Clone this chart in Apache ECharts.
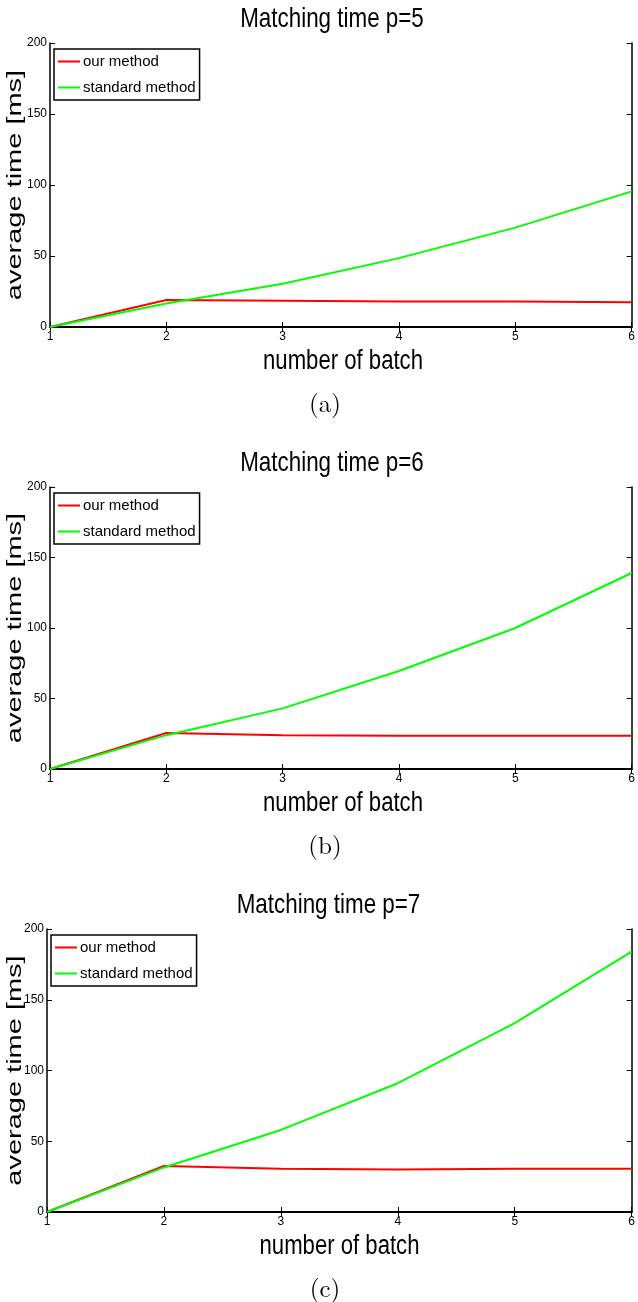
<!DOCTYPE html>
<html>
<head>
<meta charset="utf-8">
<script src="https://cdn.jsdelivr.net/npm/echarts@6/dist/echarts.min.js"></script>
<style>
html,body{margin:0;padding:0;background:#fff;}
#chart{width:638px;height:1302px;}
</style>
</head>
<body>
<div id="chart"></div>
<script>
// ---- data ----
const batches = [1, 2, 3, 4, 5, 6];
const yTicks = [0, 50, 100, 150, 200];
const seriesNames = ['our method', 'standard method'];
const titles = ['Matching time p=5', 'Matching time p=6', 'Matching time p=7'];
const captions = ['(a)', '(b)', '(c)'];
const xAxisTitle = 'number of batch';
const yAxisTitle = 'average time [ms]';
const ourA = [0, 19, 18.5, 18, 18, 17.5];
const stdA = [0, 16.5, 30.5, 48.5, 70, 95.5];
const ourB = [0, 25.5, 24, 23.5, 23.5, 23.5];
const stdB = [0, 24, 43, 69.5, 100, 139];
const ourC = [0, 32.5, 30.5, 30, 30.5, 30.5];
const stdC = [0, 31.5, 58, 91, 133.5, 184];

// ---- layout ----
const panels = [
  {our: ourA, std: stdA, left: 50, top: 43, right: 2, height: 284},
  {our: ourB, std: stdB, left: 50, top: 487, right: 2, height: 282},
  {our: ourC, std: stdC, left: 47, top: 929, right: 6, height: 283}
];
const sans = '"Liberation Sans", Arial, sans-serif';
const RED = '#ff0000', GREEN = '#00ff00';

const grid = [], xAxis = [], yAxis = [], series = [], legend = [], graphic = [];
panels.forEach((p, i) => {
  grid.push({left: p.left, top: p.top, right: p.right, height: p.height, containLabel: false});
  const xMin = batches[0], xMax = batches[batches.length - 1];
  const yMin = yTicks[0], yMax = yTicks[yTicks.length - 1];
  const common = {type: 'value', gridIndex: i, splitLine: {show: false}};
  xAxis.push(Object.assign({}, common, {
    position: 'bottom', min: xMin, max: xMax, interval: 1,
    axisLine: {show: true, lineStyle: {color: '#000', width: 2}},
    axisTick: {show: true, inside: true, length: 5, lineStyle: {color: '#000', width: 1}},
    axisLabel: {show: true, margin: 4, color: '#000', fontSize: 12, fontFamily: sans}
  }));
  xAxis.push(Object.assign({}, common, {
    position: 'top', min: xMin, max: xMax, interval: 1,
    axisLine: {show: true, lineStyle: {color: '#000', width: 1.5}},
    axisTick: {show: true, inside: true, length: 5, lineStyle: {color: '#000', width: 1}},
    axisLabel: {show: false}
  }));
  yAxis.push(Object.assign({}, common, {
    position: 'left', min: yMin, max: yMax, interval: 50,
    axisLine: {show: true, lineStyle: {color: '#000', width: 1.5}},
    axisTick: {show: true, inside: true, length: 5, lineStyle: {color: '#000', width: 1}},
    axisLabel: {show: true, margin: 3, color: '#000', fontSize: 12, fontFamily: sans}
  }));
  yAxis.push(Object.assign({}, common, {
    position: 'right', min: yMin, max: yMax, interval: 50,
    axisLine: {show: true, lineStyle: {color: '#000', width: 1.5}},
    axisTick: {show: true, inside: true, length: 5, lineStyle: {color: '#000', width: 1}},
    axisLabel: {show: false}
  }));
  const mk = (name, vals, color) => ({
    name: name, type: 'line', xAxisIndex: 2 * i, yAxisIndex: 2 * i,
    data: batches.map((b, k) => [b, vals[k]]),
    showSymbol: false, symbol: 'none', animation: false,
    lineStyle: {color: color, width: 2}, itemStyle: {color: color}, z: 3
  });
  series.push(mk(seriesNames[0], p.our, RED));
  series.push(mk(seriesNames[1], p.std, GREEN));
  legend.push({
    orient: 'vertical', left: p.left + 4, top: p.top + 6,
    data: seriesNames, icon: 'rect', itemWidth: 22, itemHeight: 2, itemGap: 11,
    selectedMode: false,
    padding: [5, 4, 5, 4], borderColor: '#000', borderWidth: 1.5, backgroundColor: '#fff',
    textStyle: {color: '#000', fontSize: 15, fontFamily: sans, padding: [0, 0, 0, -2]}
  });
  const cx = p.left + (638 - p.right - p.left) / 2;
  const bottom = p.top + p.height;
  graphic.push({type: 'text', x: cx - 11, y: p.top - 24, scaleX: 0.8, style: {text: titles[i], fill: '#000', font: '28px ' + sans, textAlign: 'center', textVerticalAlign: 'middle'}});
  graphic.push({type: 'text', x: cx, y: bottom + 35, scaleX: 0.82, style: {text: xAxisTitle, fill: '#000', font: '27px ' + sans, textAlign: 'center', textVerticalAlign: 'middle'}});
  graphic.push({type: 'text', x: 15, y: p.top + p.height / 2, rotation: Math.PI / 2, scaleX: 1.38, style: {text: yAxisTitle, fill: '#000', font: '21px ' + sans, textAlign: 'center', textVerticalAlign: 'middle'}});
  graphic.push({type: 'text', x: 325, y: bottom + 77, style: {text: captions[i], fill: '#000', font: '25px "Latin Modern Roman", "DejaVu Serif", "Liberation Serif", serif', textAlign: 'center', textVerticalAlign: 'middle'}});
});

const chart = echarts.init(document.getElementById('chart'), null, {renderer: 'canvas'});
chart.setOption({
  animation: false,
  backgroundColor: '#fff',
  grid: grid, xAxis: xAxis, yAxis: yAxis, series: series, legend: legend, graphic: graphic
});
</script>
</body>
</html>
